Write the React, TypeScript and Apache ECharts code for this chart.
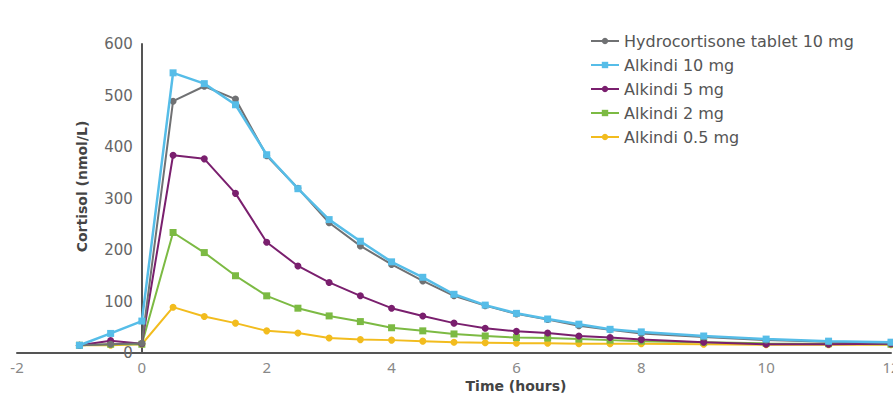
import React, { useEffect, useRef } from "react";
import * as echarts from "echarts";

const times = [-1, -0.5, 0, 0.5, 1, 1.5, 2, 2.5, 3, 3.5, 4, 4.5, 5, 5.5, 6, 6.5, 7, 7.5, 8, 9, 10, 11, 12];

const hydrocortisone10 = [15, 17, 19, 489, 518, 493, 383, 320, 253, 208, 172, 140, 111, 92, 76, 65, 53, 45, 38, 31, 25, 22, 20];
const alkindi10 = [15, 38, 62, 544, 523, 482, 385, 319, 259, 217, 177, 147, 114, 93, 77, 66, 56, 46, 41, 33, 27, 23, 21];
const alkindi5 = [15, 24, 18, 384, 377, 310, 215, 169, 137, 111, 87, 72, 58, 48, 42, 39, 33, 30, 26, 21, 17, 17, 18];
const alkindi2 = [15, 17, 17, 234, 195, 150, 111, 87, 72, 61, 49, 43, 37, 33, 30, 29, 27, 25, 23, 21, 19, 18, 17];
const alkindi05 = [15, 15, 17, 89, 71, 58, 43, 39, 29, 26, 25, 23, 21, 20, 19, 19, 18, 18, 18, 17, 16, 16, 16];

const seriesNames = ["Hydrocortisone tablet 10 mg", "Alkindi 10 mg", "Alkindi 5 mg", "Alkindi 2 mg", "Alkindi 0.5 mg"];
const seriesColors = ["#707173", "#56bde8", "#7a1f6e", "#7cba43", "#f2bc1e"];
const seriesSymbols = ["circle", "rect", "circle", "rect", "circle"];
const seriesValues = [hydrocortisone10, alkindi10, alkindi5, alkindi2, alkindi05];

const WIDE = "'DejaVu Sans', sans-serif";
const PLAIN = "'Noto Sans', sans-serif";
const GRID_LEFT = 17;

export default function App() {
  const ref = useRef<HTMLDivElement>(null);
  useEffect(() => {
    document.body.style.margin = "0";
    const chart = echarts.init(ref.current!, null, { renderer: "svg" });
    const order = [4, 3, 2, 0, 1];
    chart.setOption({
      animation: false,
      backgroundColor: "#ffffff",
      textStyle: { fontFamily: WIDE },
      grid: { left: GRID_LEFT, right: 2, top: 44, bottom: 43, containLabel: false, outerBoundsMode: "none" },
      legend: {
        orient: "vertical",
        left: 585,
        top: 28,
        itemGap: 8,
        itemWidth: 28,
        itemHeight: 8,
        data: seriesNames,
        textStyle: { fontSize: 16, color: "#555", fontFamily: WIDE },
      },
      xAxis: {
        type: "value",
        min: -2,
        max: 12,
        interval: 2,
        name: "Time (hours)",
        nameLocation: "middle",
        nameGap: 26,
        nameTextStyle: { fontSize: 14, fontWeight: "bold", color: "#444", fontFamily: WIDE, padding: [0, 0, 0, 124] },
        axisLine: { onZero: false, lineStyle: { color: "#555", width: 2 } },
        axisTick: { show: false },
        splitLine: { show: false },
        axisLabel: { fontSize: 15, color: "#888", margin: 6, fontFamily: PLAIN },
      },
      yAxis: {
        type: "value",
        min: 0,
        max: 600,
        interval: 100,
        name: "Cortisol (nmol/L)",
        nameLocation: "middle",
        nameGap: 53,
        nameTextStyle: { fontSize: 14, fontWeight: "bold", color: "#444", fontFamily: WIDE, padding: [0, 0, 0, 24] },
        axisLine: { show: true, onZero: false, lineStyle: { color: "#555", width: 2 } },
        axisTick: { show: false },
        splitLine: { show: false },
        axisLabel: { fontSize: 15, color: "#666", margin: 9, fontFamily: WIDE },
      },
      series: order.map((i) => ({
        name: seriesNames[i],
        type: "line",
        data: times.map((t, k) => [t, seriesValues[i][k]]),
        symbol: seriesSymbols[i],
        symbolSize: 7,
        showSymbol: true,
        color: seriesColors[i],
        lineStyle: { width: i === 1 ? 2.5 : 2, color: seriesColors[i] },
        itemStyle: { color: seriesColors[i] },
        z: 2 + order.indexOf(i),
      })),
    });
    const px0 = chart.convertToPixel({ xAxisIndex: 0 }, 0) as number;
    chart.setOption({ yAxis: { offset: -(px0 - GRID_LEFT) } });
    return () => chart.dispose();
  }, []);
  return <div ref={ref} style={{ width: 893, height: 396 }} />;
}
